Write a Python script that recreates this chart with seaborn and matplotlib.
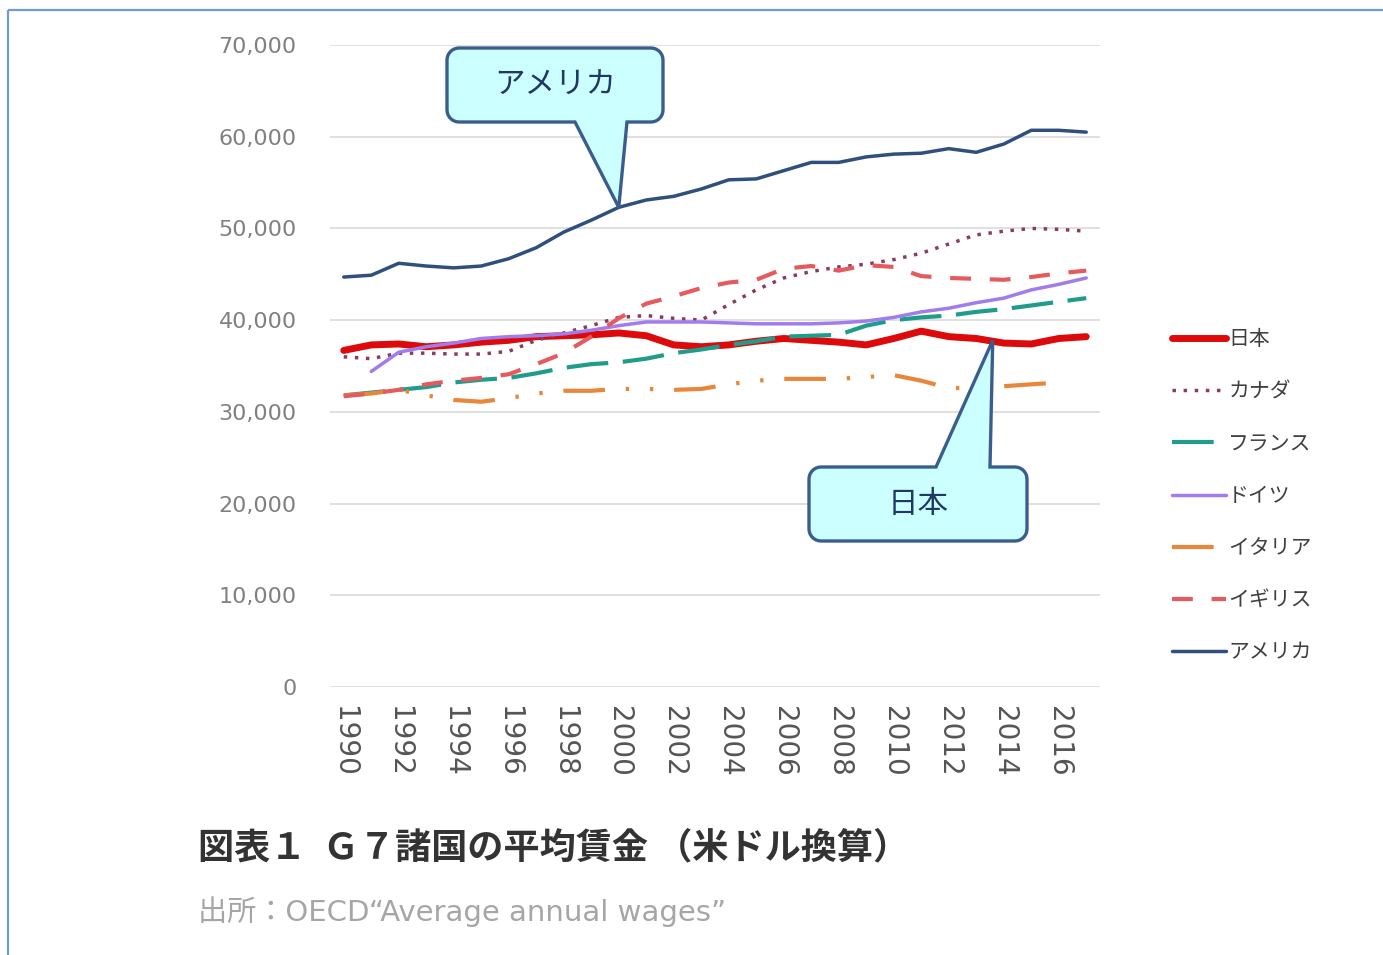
import numpy as np
import pandas as pd
import matplotlib
matplotlib.use("Agg")
import matplotlib.pyplot as plt
from matplotlib.patches import Polygon
import seaborn as sns

# G7 average annual wages (USD)
years = list(range(1990, 2018))
japan = [36700, 37300, 37400, 37100, 37300, 37600, 37800, 38200, 38300, 38400,
         38600, 38300, 37300, 37100, 37300, 37700, 38000, 37800, 37600, 37300,
         38000, 38800, 38200, 38000, 37500, 37400, 38000, 38200]
canada = [36000, 35800, 36400, 36400, 36300, 36300, 36600, 37800, 38600, 39400,
          40300, 40500, 40200, 40000, 41700, 43300, 44600, 45300, 45800, 46100,
          46600, 47300, 48300, 49300, 49700, 50000, 49900, 49700]
france = [31800, 32100, 32400, 32700, 33200, 33500, 33700, 34200, 34800, 35200,
          35400, 35800, 36400, 36800, 37300, 37700, 38200, 38300, 38400, 39400,
          40000, 40300, 40500, 40900, 41200, 41600, 42000, 42400]
germany = [np.nan, 34400, 36500, 37100, 37500, 38000, 38200, 38300, 38500, 38900,
           39400, 39800, 39800, 39800, 39700, 39600, 39600, 39600, 39700, 39900,
           40300, 40900, 41300, 41900, 42400, 43300, 43900, 44600]
italy = [31800, 32000, 32400, 31800, 31300, 31100, 31500, 32000, 32300, 32300,
         32500, 32500, 32400, 32500, 33000, 33400, 33600, 33600, 33600, 33800,
         34000, 33400, 32600, 32600, 32800, 33000, 33200, np.nan]
uk = [31700, 32000, 32400, 33000, 33400, 33700, 34100, 35200, 36400, 38200,
      40200, 41800, 42600, 43500, 44100, 44400, 45600, 45900, 45400, 46000,
      45800, 44800, 44600, 44500, 44400, 44700, 45100, 45400]
usa = [44700, 44900, 46200, 45900, 45700, 45900, 46700, 47900, 49600, 50900,
       52300, 53100, 53500, 54300, 55300, 55400, 56300, 57200, 57200, 57800,
       58100, 58200, 58700, 58300, 59200, 60700, 60700, 60500]

countries = ["日本", "カナダ", "フランス", "ドイツ", "イタリア", "イギリス", "アメリカ"]
series = [japan, canada, france, germany, italy, uk, usa]

colors = ["#DC0A0A", "#8A3A64", "#1F9C8C", "#A07CEC", "#E8863A", "#E65A5E", "#2F4F7D"]
widths = [5.0, 2.5, 3.0, 2.5, 3.0, 3.0, 2.5]
styles = ["-", (0, (1, 2.2)), (0, (10, 3.5)), "-",
          (0, (10, 5, 0.8, 5, 0.8, 5)), (0, (5, 4.5)), "-"]

tick_years = list(range(1990, 2017, 2))
y_ticks = list(range(0, 70001, 10000))

sns.set_style("white")
plt.rcParams["font.family"] = ["DejaVu Sans", "Noto Sans CJK JP"]

W, H = 1383, 955
fig = plt.figure(figsize=(W / 100, H / 100), dpi=100)
ax = fig.add_axes([330 / W, (H - 687) / H, 770 / W, 642 / H])

df = pd.DataFrame({"year": years})
for name, vals, c, lw, ls in zip(countries, series, colors, widths, styles):
    df[name] = vals
    sns.lineplot(data=df, x="year", y=name, ax=ax, color=c, linewidth=lw,
                 linestyle=ls, label=name, errorbar=None, legend=False)

ax.set_xlim(1989.5, 2017.5)
ax.set_ylim(0, 70000)
ax.set_xticks(tick_years)
ax.set_xticklabels([str(y) for y in tick_years], rotation=-90, fontsize=20,
                   color="#555555", va="top", ha="center")
ax.set_yticks(y_ticks)
ax.set_yticklabels([f"{v:,}" for v in y_ticks], fontsize=16, color="#808080")
ax.tick_params(axis="x", length=0, pad=14)
ax.tick_params(axis="y", length=0, pad=24)
ax.set_xlabel("")
ax.set_ylabel("")
ax.yaxis.grid(True, color="#DADADA", linewidth=1.2)
ax.xaxis.grid(False)
for s in ax.spines.values():
    s.set_visible(False)

handles = ax.get_lines()[:len(countries)]
leg = fig.legend(handles, countries, loc="center left",
                 bbox_to_anchor=(1172 / W, (H - 496) / H), frameon=False,
                 handlelength=2.6, handletextpad=0.1,
                 labelspacing=1.45, borderpad=0, borderaxespad=0,
                 prop={"family": ["Noto Sans CJK JP"], "size": 15})
for t in leg.get_texts():
    t.set_color("#404040")

# overlay in pixel coordinates for callouts, frame and captions
ov = fig.add_axes([0, 0, 1, 1], zorder=5)
ov.set_xlim(0, W)
ov.set_ylim(H, 0)
ov.axis("off")
ov.patch.set_alpha(0)


def to_px(x, y):
    px, py = ax.transData.transform((x, y))
    return px, H - py


def callout(x0, y0, x1, y1, r, b0, b1, tip, side):
    pts = []

    def arc(cx, cy, a0, a1):
        for a in np.linspace(np.radians(a0), np.radians(a1), 8):
            pts.append((cx + r * np.cos(a), cy + r * np.sin(a)))

    arc(x0 + r, y0 + r, 180, 270)
    if side == "top":
        pts.extend([(b0, y0), tip, (b1, y0)])
    arc(x1 - r, y0 + r, 270, 360)
    arc(x1 - r, y1 - r, 0, 90)
    if side == "bottom":
        pts.extend([(b1, y1), tip, (b0, y1)])
    arc(x0 + r, y1 - r, 90, 180)
    ov.add_patch(Polygon(pts, closed=True, facecolor="#CCFFFF",
                         edgecolor="#3B5D8E", linewidth=2.4, joinstyle="miter"))


callout(447, 48, 663, 122, 12, 575, 627, to_px(2000, 52300), "bottom")
ov.text(555, 85, "アメリカ", fontsize=22, color="#1F3864", ha="center",
        va="center", family=["Noto Sans CJK JP"])
callout(809, 467, 1027, 541, 12, 936, 990, to_px(2013.6, 37800), "top")
ov.text(918, 504, "日本", fontsize=22, color="#1F3864", ha="center",
        va="center", family=["Noto Sans CJK JP"])

# frame
ov.plot([8, 8], [H, 10], color="#6F9BD6", linewidth=1.6, solid_capstyle="butt")
ov.plot([8, W], [10, 10], color="#6F9BD6", linewidth=1.6, solid_capstyle="butt")

ov.text(198, 848, "図表１  Ｇ７諸国の平均賃金 （米ドル換算）", fontsize=26,
        fontweight="bold", color="#333333", ha="left", va="center",
        family=["Noto Sans CJK JP", "DejaVu Sans"])
ov.text(198, 912, "出所：OECD“Average annual wages”", fontsize=21,
        color="#A6A6A6", ha="left", va="center",
        family=["DejaVu Sans", "Noto Sans CJK JP"])

fig.savefig("out.png", dpi=100)
